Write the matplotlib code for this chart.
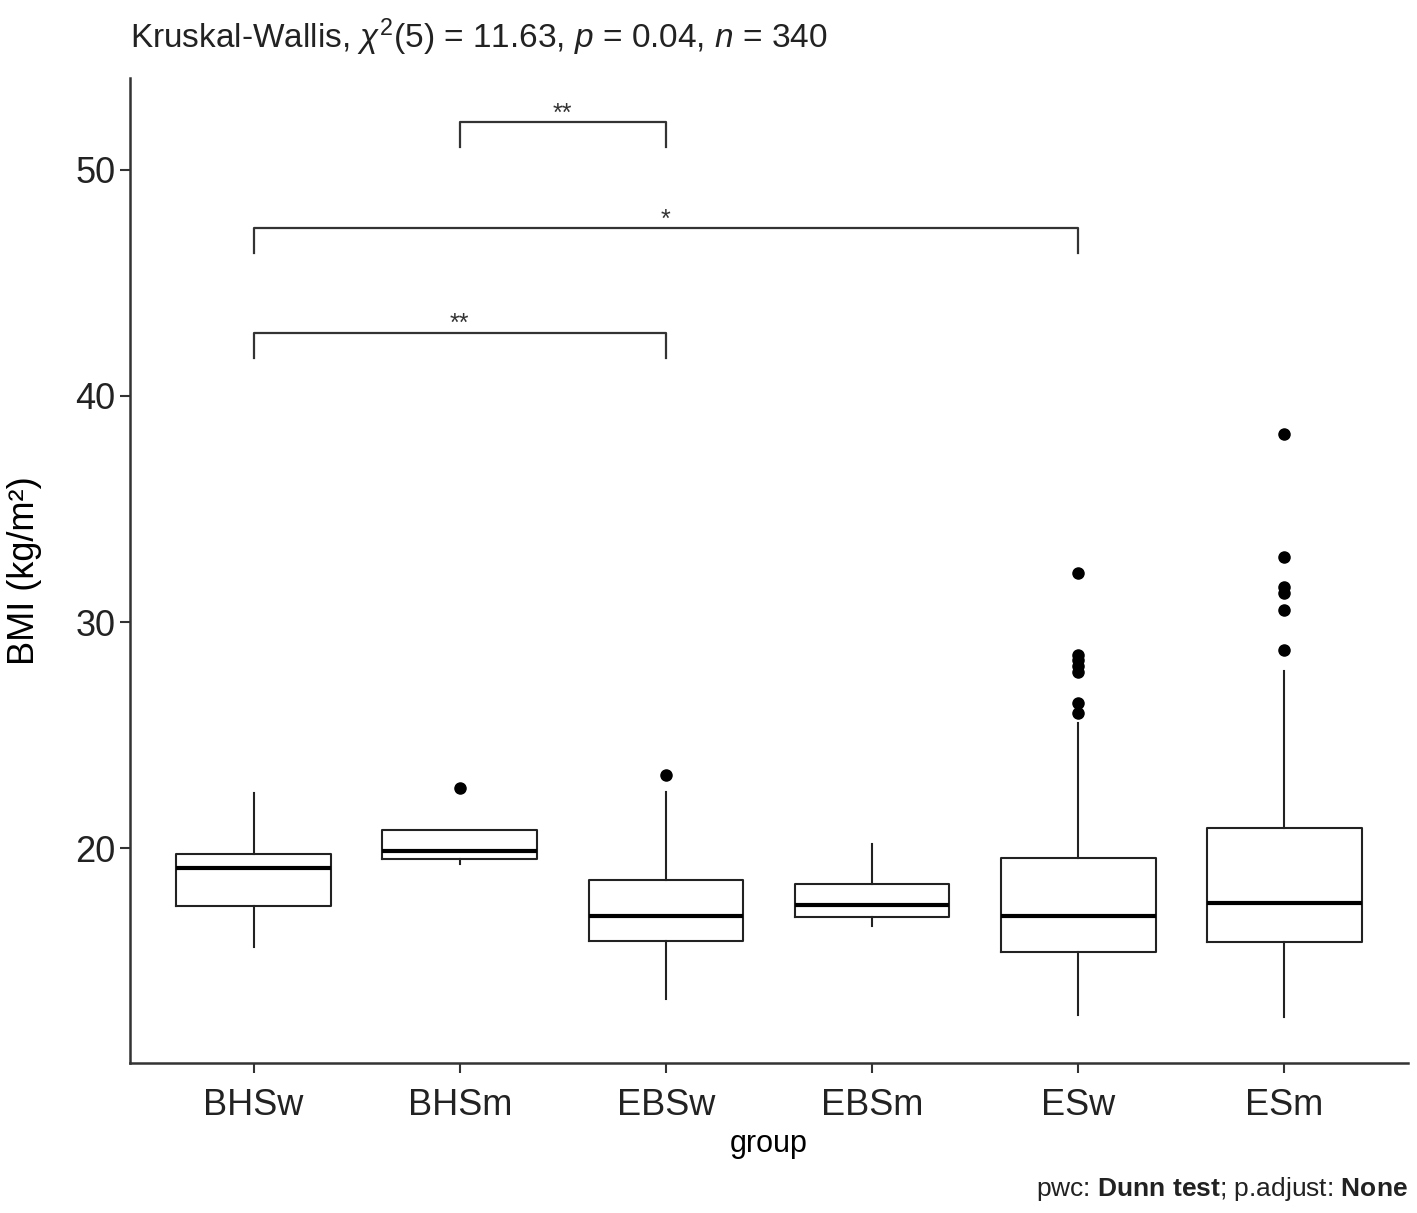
import matplotlib
matplotlib.use('Agg')
import matplotlib.pyplot as plt

plt.rcParams['font.family'] = ['Liberation Sans', 'DejaVu Sans']
plt.rcParams['mathtext.fontset'] = 'custom'
plt.rcParams['mathtext.rm'] = 'Liberation Sans'
plt.rcParams['mathtext.it'] = 'Liberation Sans:italic'
plt.rcParams['mathtext.bf'] = 'Liberation Sans:bold'

# box statistics (BMI, kg/m2)
groups = ['BHSw', 'BHSm', 'EBSw', 'EBSm', 'ESw', 'ESm']
medians = [19.10, 19.88, 17.00, 17.47, 16.98, 17.58]
q1s = [17.45, 19.51, 15.90, 16.94, 15.42, 15.83]
q3s = [19.73, 20.80, 18.58, 18.40, 19.54, 20.89]
whis_lo = [15.60, 19.29, 13.30, 16.53, 12.63, 12.53]
whis_hi = [22.43, 20.80, 22.49, 20.19, 25.55, 27.84]
outliers = [
    [],
    [22.67],
    [23.24],
    [],
    [32.19, 28.54, 28.30, 28.05, 27.80, 26.42, 25.98],
    [38.30, 32.88, 31.56, 31.30, 30.55, 28.76],
]

# pairwise comparisons (group index pairs, bracket height, label)
pairs = [(1, 2), (0, 4), (0, 2)]
pair_y = [52.12, 47.43, 42.79]
pair_labels = ['**', '*', '**']
tip = 1.12

fig = plt.figure(figsize=(14.17, 12.13), dpi=100)
ax = fig.add_axes([0.0917, 0.1237, 0.902, 0.812])

stats = []
for i, g in enumerate(groups):
    stats.append(dict(label=g, med=medians[i], q1=q1s[i], q3=q3s[i],
                      whislo=whis_lo[i], whishi=whis_hi[i], fliers=outliers[i]))

pos = list(range(1, len(groups) + 1))
ax.bxp(stats, positions=pos, widths=0.75, showcaps=False, patch_artist=False,
       boxprops=dict(color='#222222', linewidth=1.5),
       whiskerprops=dict(color='#222222', linewidth=1.5),
       medianprops=dict(color='black', linewidth=3),
       flierprops=dict(marker='o', markerfacecolor='black', markeredgecolor='black',
                       markersize=8))

for (a, b), y, lab in zip(pairs, pair_y, pair_labels):
    xa, xb = pos[a], pos[b]
    ax.plot([xa, xa, xb, xb], [y - tip, y, y, y - tip], color='#333333', linewidth=1.6)
    ax.text((xa + xb) / 2, y - 0.15, lab, ha='center', va='bottom', fontsize=18,
            color='#333333')

ax.set_xlim(0.4, 6.6)
ax.set_ylim(10.49, 54.07)
ax.set_yticks([20, 30, 40, 50])
ax.tick_params(axis='both', labelsize=26, colors='#333333', length=7, width=1.5,
               labelcolor='#222222')
ax.tick_params(axis='x', pad=11)
for s in ['top', 'right']:
    ax.spines[s].set_visible(False)
for s in ['left', 'bottom']:
    ax.spines[s].set_linewidth(1.8)
    ax.spines[s].set_color('#333333')

ax.set_xlabel('group', fontsize=22, labelpad=4)
ax.set_ylabel('BMI (kg/m²)', fontsize=26, labelpad=24)

fig.text(0.0917, 0.952, r'Kruskal-Wallis, $\chi^2$(5) = 11.63, $p$ = 0.04, $n$ = 340',
         fontsize=24, ha='left', va='bottom', color='#222222')
fig.text(0.9937, 0.008, r'pwc: $\bf{Dunn\ test}$; p.adjust: $\bf{None}$',
         fontsize=19, ha='right', va='bottom', color='#222222')

fig.savefig('out.png', dpi=100)
